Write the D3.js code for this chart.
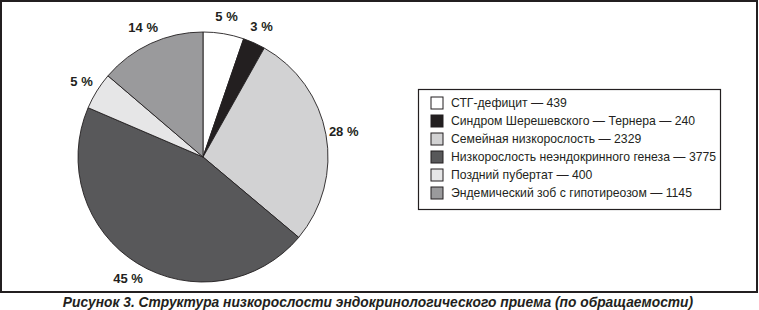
<!DOCTYPE html>
<html><head><meta charset="utf-8">
<script src="https://cdn.jsdelivr.net/npm/d3@7"></script>
<style>
html,body{margin:0;padding:0;background:#fff;}
svg{display:block;}
</style></head>
<body>
<script>
const categories = ["СТГ-дефицит","Синдром Шерешевского — Тернера","Семейная низкорослость","Низкорослость неэндокринного генеза","Поздний пубертат","Эндемический зоб с гипотиреозом"];
const values = [439, 240, 2329, 3775, 400, 1145];
const percentLabels = ["5 %","3 %","28 %","45 %","5 %","14 %"];
const colors = ["#ffffff","#231f20","#d2d2d3","#58585a","#e6e6e7","#9a9a9c"];
const caption = "Рисунок 3. Структура низкорослости эндокринологического приема (по обращаемости)";

const W = 759, H = 310;
const svg = d3.select("body").append("svg").attr("width", W).attr("height", H);

svg.append("rect").attr("x",1).attr("y",1).attr("width",756).attr("height",291)
  .attr("fill","#fff").attr("stroke","#231f20").attr("stroke-width",2);

const cx = 203, cy = 157, R = 125;
const pie = d3.pie().sort(null).value(d => d)(values);
const arc = d3.arc().innerRadius(0).outerRadius(R);
const labelArc = d3.arc().innerRadius(143).outerRadius(143);
const g = svg.append("g").attr("transform", `translate(${cx},${cy})`);
g.selectAll("path").data(pie).join("path")
  .attr("d", arc).attr("fill", (d,i) => colors[i])
  .attr("stroke","#231f20").attr("stroke-width",0.9);
g.selectAll("text").data(pie).join("text")
  .attr("transform", d => `translate(${labelArc.centroid(d)})`)
  .attr("text-anchor","middle").attr("dy","0.35em")
  .attr("font-family","Liberation Sans, Arial, sans-serif")
  .attr("font-weight","bold").attr("font-size",13).attr("fill","#231f20")
  .text((d,i) => percentLabels[i]);

// legend
const lg = svg.append("g");
lg.append("rect").attr("x",418.5).attr("y",89.5).attr("width",302).attr("height",120)
  .attr("fill","#fff").attr("stroke","#231f20").attr("stroke-width",1.2);
const y0 = 103, step = 18;
const items = lg.selectAll("g.item").data(categories).join("g").attr("class","item")
  .attr("transform",(d,i)=>`translate(0,${y0 + i*step})`);
items.append("rect").attr("x",431).attr("y",-6).attr("width",12).attr("height",12)
  .attr("fill",(d,i)=>colors[i]).attr("stroke","#231f20").attr("stroke-width",1);
items.append("text").attr("x",451).attr("dy","0.36em")
  .attr("font-family","Liberation Sans, Arial, sans-serif").attr("font-size",12.2).attr("fill","#231f20")
  .text((d,i)=> d + " — " + values[i]);

svg.append("text").attr("x",378).attr("y",307).attr("text-anchor","middle")
  .attr("font-family","Liberation Sans, Arial, sans-serif")
  .attr("font-style","italic").attr("font-weight","bold").attr("font-size",13.8).attr("fill","#231f20")
  .text(caption);
</script>
</body></html>
